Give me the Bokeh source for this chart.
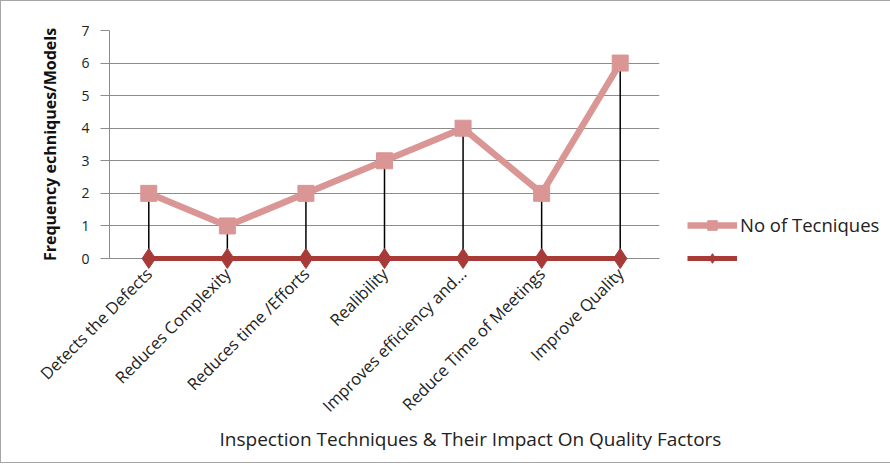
import math
from bokeh.plotting import figure
from bokeh.models import FactorRange, Range1d, FixedTicker, Legend, LegendItem, Title
from bokeh.core.properties import value
from bokeh.embed import file_html
from bokeh.resources import INLINE

categories = [
    "Detects the Defects",
    "Reduces Complexity",
    "Reduces time /Efforts",
    "Realibility",
    "Improves efficiency and...",
    "Reduce Time of Meetings",
    "Improve Quality",
]
no_of_techniques = [2, 1, 2, 3, 4, 2, 6]
second_series = [0, 0, 0, 0, 0, 0, 0]
y_ticks = [0, 1, 2, 3, 4, 5, 6, 7]

FONT = "Open Sans"
PINK = "#D99694"
DARK = "#A83A38"
GRID = "#8c8c8c"

p = figure(
    x_range=FactorRange(*categories),
    y_range=Range1d(0, 7),
    frame_width=550, frame_height=228,
    output_backend="svg", toolbar_location=None,
    min_border_left=108, min_border_top=29,
    min_border_right=232, min_border_bottom=204,
)
p.styles = {"border": "1px solid #a6a6a6"}
p.outline_line_color = None
p.background_fill_color = "white"

# series
l1 = p.line(categories, no_of_techniques, line_color=PINK, line_width=6.5)
p.segment(x0=categories, y0=second_series, x1=categories, y1=no_of_techniques,
          line_color="black", line_width=1.5)
s1 = p.scatter(categories, no_of_techniques, marker="square", size=16,
               fill_color=PINK, line_color=PINK)
l2 = p.line(categories, second_series, line_color=DARK, line_width=5, level="overlay")
s2 = p.scatter(categories, second_series, marker="diamond", size=20,
               fill_color=DARK, line_color=DARK, level="overlay")

# axes
p.yaxis.ticker = FixedTicker(ticks=y_ticks)
p.yaxis.minor_tick_line_color = None
p.yaxis.major_tick_out = 9
p.yaxis.major_tick_in = 0
p.yaxis.major_tick_line_color = GRID
p.yaxis.axis_line_color = GRID
p.yaxis.major_label_standoff = 11
p.yaxis.major_label_text_font = FONT
p.yaxis.major_label_text_font_size = "14px"
p.yaxis.major_label_text_color = "#222222"
p.yaxis.axis_label = "Frequency echniques/Models"
p.yaxis.axis_label_text_font = FONT
p.yaxis.axis_label_text_font_size = "16px"
p.yaxis.axis_label_text_font_style = "bold"
p.yaxis.axis_label_text_color = "#111111"
p.yaxis.axis_label_standoff = 17

p.xaxis.major_label_orientation = math.pi / 4
p.xaxis.major_tick_line_color = None
p.xaxis.axis_line_color = GRID
p.xaxis.major_label_standoff = 6
p.xaxis.major_label_text_font = FONT
p.xaxis.major_label_text_font_size = "16.5px"
p.xaxis.major_label_text_color = "#222222"

p.xgrid.grid_line_color = None
p.ygrid.grid_line_color = GRID
p.ygrid.grid_line_width = 1

xtitle = Title(
    text="Inspection Techniques & Their Impact On Quality Factors",
    align="left", offset=110, standoff=-8,
    text_font=FONT, text_font_size="19px", text_font_style="normal",
    text_color="#222222",
)
p.add_layout(xtitle, "below")

legend = Legend(
    items=[
        LegendItem(label=value("No of Tecniques"), renderers=[l1, s1]),
        LegendItem(label=value(""), renderers=[l2, s2]),
    ],
    location=(28, -12),
    padding=0, margin=0, spacing=9,
    glyph_width=50, glyph_height=24, label_height=24, label_standoff=3,
    label_text_font=FONT, label_text_font_size="18.5px", label_text_color="#222222",
    background_fill_alpha=0, border_line_color=None,
)
p.add_layout(legend, "right")

open("out.html", "w").write(file_html(p, INLINE))
